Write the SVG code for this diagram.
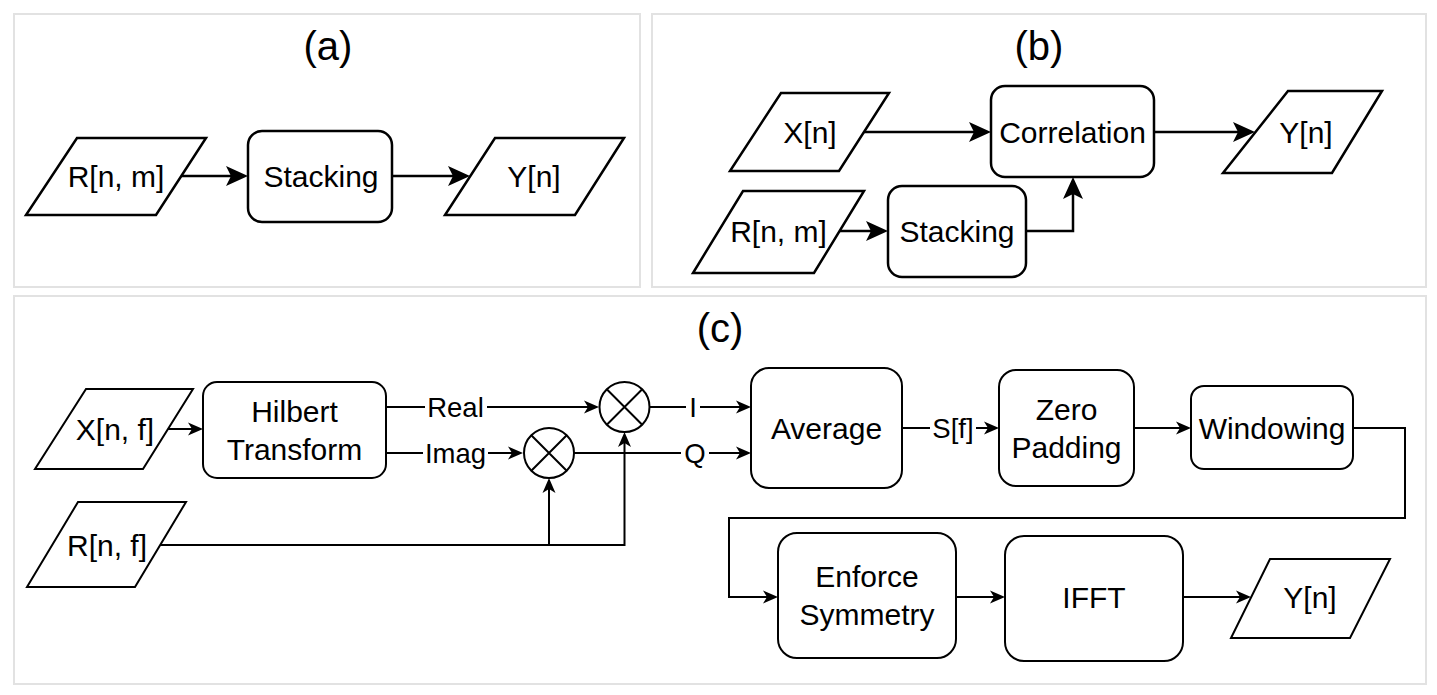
<svg xmlns="http://www.w3.org/2000/svg" width="1437" height="695" viewBox="0 0 1437 695">
<style>
.panel{fill:#fff;stroke:#e2e2e2;stroke-width:2}
.sa{fill:#fff;stroke:#000;stroke-width:2.5}
.sc{fill:#fff;stroke:#000;stroke-width:2}
.ca{fill:none;stroke:#000;stroke-width:2.5}
.cc{fill:none;stroke:#000;stroke-width:2}
text{font-family:"Liberation Sans",Arial,sans-serif;fill:#000;text-anchor:middle}
.t{font-size:30px}
.title{font-size:40px}
.lbl{font-size:27.5px}
.bg{fill:#fff;stroke:none}
</style>
<defs>
<marker id="ab" markerUnits="userSpaceOnUse" markerWidth="22" markerHeight="20" viewBox="0 0 22 20" refX="5" refY="10" orient="auto" overflow="visible"><path d="M22,10 L0,0 L5,10 L0,20 Z" fill="#000"/></marker>
<marker id="as" markerUnits="userSpaceOnUse" markerWidth="15" markerHeight="13" viewBox="0 0 15 13" refX="4" refY="6.5" orient="auto" overflow="visible"><path d="M15,6.5 L0,0 L4,6.5 L0,13 Z" fill="#000"/></marker>
</defs>
<rect width="1437" height="695" fill="#fff"/>
<g id="panels">
<rect class="panel" x="14" y="14" width="626" height="273"/>
<rect class="panel" x="652" y="14" width="774" height="273"/>
<rect class="panel" x="14" y="296" width="1412" height="388"/>
<text class="title" x="328" y="60">(a)</text>
<text class="title" x="1039" y="60">(b)</text>
<text class="title" x="720" y="342">(c)</text>
</g>
<g id="connectors">
<path class="ca" d="M181,176 H231" marker-end="url(#ab)"/>
<path class="ca" d="M392,176 H453" marker-end="url(#ab)"/>
<path class="ca" d="M864,132 H974" marker-end="url(#ab)"/>
<path class="ca" d="M1154,132 H1238" marker-end="url(#ab)"/>
<path class="ca" d="M840,231 H871" marker-end="url(#ab)"/>
<path class="ca" d="M1026,231 H1073 V194" marker-end="url(#ab)"/>
<path class="cc" d="M168,429 H192" marker-end="url(#as)"/>
<path class="cc" d="M386,407 H588" marker-end="url(#as)"/>
<path class="cc" d="M386,453 H512" marker-end="url(#as)"/>
<path class="cc" d="M650,407 H740" marker-end="url(#as)"/>
<path class="cc" d="M574,453 H740" marker-end="url(#as)"/>
<path class="cc" d="M160,545 H624.5 V443" marker-end="url(#as)"/>
<path class="cc" d="M549,545 V489" marker-end="url(#as)"/>
<path class="cc" d="M902,428 H988" marker-end="url(#as)"/>
<path class="cc" d="M1134,428 H1180" marker-end="url(#as)"/>
<path class="cc" d="M1353,428 H1405 V518 H729 V597 H767" marker-end="url(#as)"/>
<path class="cc" d="M956,597 H994" marker-end="url(#as)"/>
<path class="cc" d="M1183,597 H1240" marker-end="url(#as)"/>
<rect class="bg" x="425" y="396" width="62" height="20"/>
<text class="lbl" x="455.5" y="417">Real</text>
<rect class="bg" x="423" y="443" width="65" height="20"/>
<text class="lbl" x="455.5" y="463">Imag</text>
<rect class="bg" x="686" y="397" width="14" height="20"/>
<text class="lbl" x="693" y="417">I</text>
<rect class="bg" x="681" y="443" width="28" height="20"/>
<text class="lbl" x="695" y="463">Q</text>
<rect class="bg" x="930" y="418" width="46" height="20"/>
<text class="lbl" x="953" y="438">S[f]</text>
</g>
<g id="a_R">
<polygon class="sa" points="77,138 206,138 156,215 26,215"/>
<text class="t" x="116" y="186.5">R[n, m]</text>
</g>
<g id="a_stacking">
<rect class="sa" x="248" y="131" width="144" height="91" rx="14"/>
<text class="t" x="321" y="186.5">Stacking</text>
</g>
<g id="a_Y">
<polygon class="sa" points="495,138 624,138 575,215 445,215"/>
<text class="t" x="534" y="186.5">Y[n]</text>
</g>
<g id="b_X">
<polygon class="sa" points="781,93 889,93 839,171 730,171"/>
<text class="t" x="810" y="142.5">X[n]</text>
</g>
<g id="b_correlation">
<rect class="sa" x="991" y="86" width="163" height="91" rx="14"/>
<text class="t" x="1072.5" y="142.5">Correlation</text>
</g>
<g id="b_Y">
<polygon class="sa" points="1288,91 1382,91 1332,173 1223,173"/>
<text class="t" x="1306" y="142.5">Y[n]</text>
</g>
<g id="b_R">
<polygon class="sa" points="743,191 864,191 814,273 693,273"/>
<text class="t" x="778.5" y="241.5">R[n, m]</text>
</g>
<g id="b_stacking">
<rect class="sa" x="888" y="186" width="138" height="91" rx="14"/>
<text class="t" x="957" y="241.5">Stacking</text>
</g>
<g id="c_X">
<polygon class="sc" points="86,389 193,389 143,469 35,469"/>
<text class="t" x="115" y="439.5">X[n, f]</text>
</g>
<g id="c_hilbert">
<rect class="sc" x="203" y="382" width="183" height="96" rx="14"/>
<text class="t" x="294.5" y="421.5">Hilbert</text>
<text class="t" x="294.5" y="459.5">Transform</text>
</g>
<g id="c_R">
<polygon class="sc" points="78,502 186,502 135,587 27,587"/>
<text class="t" x="107" y="555.5">R[n, f]</text>
</g>
<g id="c_mult1">
<circle class="sc" cx="624.5" cy="407" r="25"/>
<path class="cc" d="M606.8,389.3 L642.2,424.7 M642.2,389.3 L606.8,424.7"/>
</g>
<g id="c_mult2">
<circle class="sc" cx="549" cy="453" r="25"/>
<path class="cc" d="M531.3,435.3 L566.7,470.7 M566.7,435.3 L531.3,470.7"/>
</g>
<g id="c_average">
<rect class="sc" x="751" y="368" width="151" height="120" rx="18"/>
<text class="t" x="826.5" y="438.5">Average</text>
</g>
<g id="c_zeropadding">
<rect class="sc" x="999" y="370" width="135" height="116" rx="17"/>
<text class="t" x="1066.5" y="420">Zero</text>
<text class="t" x="1066.5" y="458">Padding</text>
</g>
<g id="c_windowing">
<rect class="sc" x="1191" y="386" width="162" height="83" rx="13"/>
<text class="t" x="1272" y="438.5">Windowing</text>
</g>
<g id="c_enforce">
<rect class="sc" x="778" y="533" width="178" height="125" rx="19"/>
<text class="t" x="867" y="587">Enforce</text>
<text class="t" x="867" y="625">Symmetry</text>
</g>
<g id="c_ifft">
<rect class="sc" x="1005" y="536" width="178" height="125" rx="19"/>
<text class="t" x="1094" y="608">IFFT</text>
</g>
<g id="c_Y">
<polygon class="sc" points="1270,559 1390,559 1350,638 1231,638"/>
<text class="t" x="1310" y="608">Y[n]</text>
</g>
</svg>
